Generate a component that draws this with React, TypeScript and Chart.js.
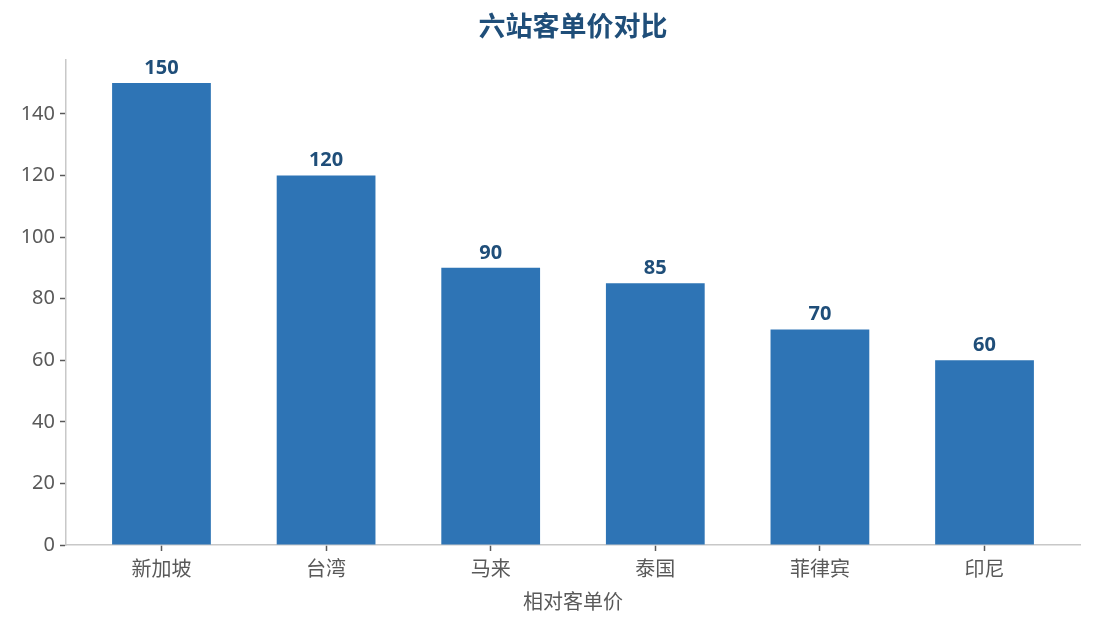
import React, { useEffect, useRef } from "react";
import { Chart, registerables } from "chart.js";

Chart.register(...registerables);

const categories = ["新加坡", "台湾", "马来", "泰国", "菲律宾", "印尼"];
const values = [150, 120, 90, 85, 70, 60];
const yTicks = [0, 20, 40, 60, 80, 100, 120, 140];
const chartTitle = "六站客单价对比";
const xTitle = "相对客单价";

const FONT = "'Noto Sans', 'Noto Sans CJK SC', sans-serif";

export default function App() {
  const ref = useRef<HTMLCanvasElement | null>(null);

  useEffect(() => {
    if (!ref.current) return;
    const labelsPlugin = {
      id: "customText",
      afterDatasetsDraw(chart: any) {
        const ctx = chart.ctx;
        const meta = chart.getDatasetMeta(0);
        ctx.save();
        ctx.fillStyle = "#1f4e79";
        ctx.font = `bold 20px ${FONT}`;
        ctx.textAlign = "center";
        ctx.textBaseline = "alphabetic";
        meta.data.forEach((el: any, i: number) => {
          ctx.fillText(String(values[i]), el.x, el.y - 9);
        });
        const ca = chart.chartArea;
        ctx.font = `bold 27px ${FONT}`;
        ctx.textBaseline = "middle";
        ctx.fillText(chartTitle, (ca.left + ca.right) / 2, 28);
        ctx.fillStyle = "#595959";
        ctx.font = `20px ${FONT}`;
        ctx.fillText(xTitle, (ca.left + ca.right) / 2, 603);
        ctx.restore();
      },
    };

    const chart = new Chart(ref.current, {
      type: "bar",
      data: {
        datasets: [
          {
            data: values.map((v, i) => ({ x: i, y: v })),
            backgroundColor: "#2e74b5",
            categoryPercentage: 1,
            barPercentage: 0.6,
          },
        ],
      },
      options: {
        animation: false,
        responsive: false,
        devicePixelRatio: 1,
        layout: { padding: { top: 60, right: 15, left: 0, bottom: 0 } },
        plugins: {
          legend: { display: false },
          title: { display: false },
          tooltip: { enabled: false },
        },
        scales: {
          x: {
            type: "linear",
            offset: false,
            min: -0.58,
            max: 5.58,
            afterBuildTicks(scale: any) {
              scale.ticks = categories.map((_, i) => ({ value: i }));
            },
            afterFit(scale: any) {
              scale.height = 84;
            },
            grid: {
              offset: false,
              drawOnChartArea: false,
              drawTicks: true,
              tickLength: 6,
              tickColor: "#595959",
              tickWidth: 1.5,
            },
            border: { color: "#c8c8c8", width: 1.5 },
            ticks: {
              autoSkip: false,
              maxRotation: 0,
              padding: 7,
              color: "#595959",
              font: { family: FONT, size: 20 },
              callback: (v: any) => categories[Math.round(Number(v))] ?? "",
            },
          },
          y: {
            min: 0,
            max: 157.5,
            afterBuildTicks(scale: any) {
              scale.ticks = yTicks.map((v) => ({ value: v }));
            },
            afterFit(scale: any) {
              scale.width = 66;
            },
            grid: {
              drawOnChartArea: false,
              drawTicks: true,
              tickLength: 6,
              tickColor: "#595959",
              tickWidth: 1.5,
            },
            border: { color: "#c8c8c8", width: 1.5 },
            ticks: {
              padding: 5,
              color: "#595959",
              font: { family: FONT, size: 20 },
            },
          },
        },
      },
      plugins: [labelsPlugin],
    } as any);
    return () => chart.destroy();
  }, []);

  return (
    <div style={{ position: "absolute", left: 0, top: 0, width: 1095, height: 629, background: "#fff" }}>
      <canvas ref={ref} width={1095} height={629} style={{ width: 1095, height: 629 }} />
    </div>
  );
}
